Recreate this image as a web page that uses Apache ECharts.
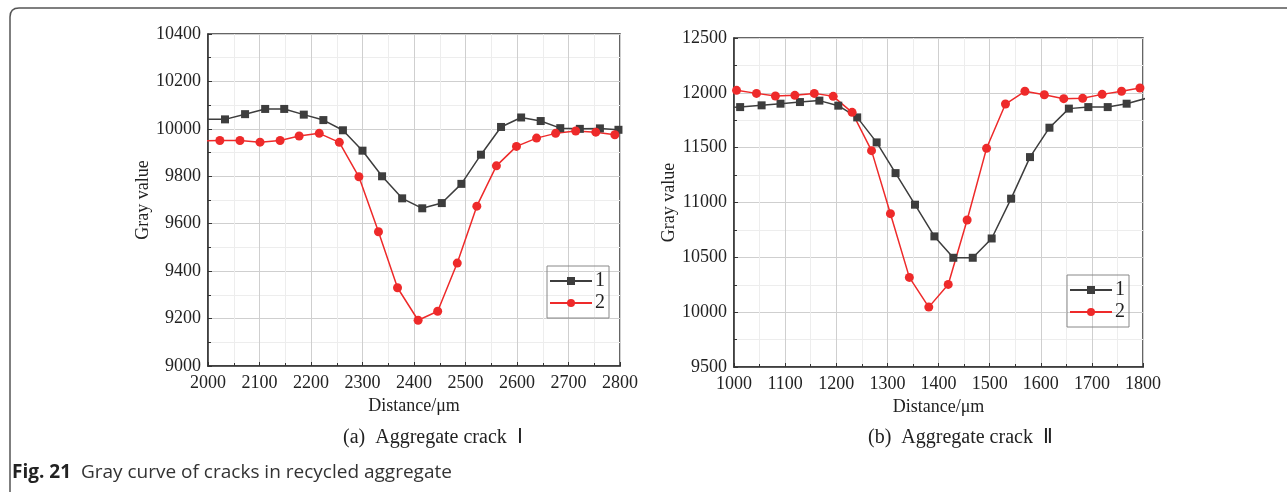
<!DOCTYPE html>
<html>
<head>
<meta charset="utf-8">
<script src="https://cdn.jsdelivr.net/npm/echarts@6.0.0/dist/echarts.min.js"></script>
<style>
  html, body { margin: 0; padding: 0; background: #fff; }
  #chart { width: 1287px; height: 492px; }
</style>
</head>
<body>
<div id="chart"></div>
<script>
// (a) Aggregate crack I  -- first point of each series sits just left of the axis and is clipped
const distA1 = [1995, 2033, 2072, 2111, 2148, 2186, 2224, 2262, 2300, 2338, 2377, 2416, 2454, 2492, 2530, 2569, 2608, 2646, 2684, 2722, 2761, 2797]
const grayA1 = [10040, 10040, 10062, 10084, 10084, 10060, 10037, 9994, 9908, 9800, 9707, 9665, 9687, 9768, 9891, 10008, 10048, 10033, 10003, 10000, 10002, 9996]
const distA2 = [1985, 2023, 2062, 2101, 2140, 2177, 2216, 2255, 2293, 2331, 2368, 2408, 2446, 2484, 2522, 2560, 2599, 2638, 2675, 2714, 2753, 2790]
const grayA2 = [9950, 9951, 9951, 9944, 9951, 9970, 9981, 9943, 9798, 9566, 9330, 9193, 9231, 9434, 9674, 9844, 9926, 9961, 9981, 9991, 9986, 9975]

// (b) Aggregate crack II
const distB1 = [974, 1012, 1054, 1091, 1129, 1167, 1204, 1241, 1279, 1316, 1354, 1392, 1429, 1467, 1504, 1542, 1579, 1617, 1655, 1693, 1731, 1768, 1806]
const grayB1 = [11868, 11870, 11886, 11901, 11916, 11929, 11883, 11776, 11548, 11268, 10980, 10691, 10496, 10496, 10672, 11035, 11414, 11682, 11856, 11870, 11870, 11901, 11950]
const distB2 = [1005, 1044, 1081, 1119, 1157, 1194, 1231, 1269, 1306, 1343, 1381, 1419, 1456, 1494, 1531, 1569, 1607, 1645, 1682, 1720, 1758, 1794]
const grayB2 = [12023, 11995, 11971, 11977, 11995, 11968, 11822, 11473, 10898, 10317, 10046, 10253, 10840, 11494, 11898, 12014, 11983, 11947, 11950, 11986, 12014, 12044]

const serif = '"Liberation Serif", "Times New Roman", serif'
const pairs = (xs, ys) => xs.map((x, i) => [x, ys[i]])
const plain = v => String(v)

const xAxisOf = (gridIndex, min, max) => ({
  type: 'value', gridIndex, min, max, interval: 100,
  name: 'Distance/μm', nameLocation: 'middle', nameGap: 27,
  nameTextStyle: { fontFamily: serif, fontSize: 18, color: '#222' },
  axisLine: { lineStyle: { color: '#333', width: 1.5 } },
  axisTick: { inside: true, length: 4, lineStyle: { color: '#333' } },
  minorTick: { show: true, splitNumber: 2, length: 3, lineStyle: { color: '#333' } },
  axisLabel: { fontFamily: serif, fontSize: 18, color: '#222', margin: 8, formatter: plain },
  splitLine: { show: true, lineStyle: { color: '#cfcfcf' } },
  minorSplitLine: { show: true, lineStyle: { color: '#ededed' } }
})
const yAxisOf = (gridIndex, min, max, interval, nameGap) => ({
  type: 'value', gridIndex, min, max, interval,
  name: 'Gray value', nameLocation: 'middle', nameRotate: 90, nameGap,
  nameTextStyle: { fontFamily: serif, fontSize: 18, color: '#222' },
  axisLine: { show: true, lineStyle: { color: '#333', width: 1.5 } },
  axisTick: { show: true, inside: true, length: 4, lineStyle: { color: '#333' } },
  minorTick: { show: true, splitNumber: 2, length: 3, lineStyle: { color: '#333' } },
  axisLabel: { fontFamily: serif, fontSize: 18, color: '#222', margin: 7, formatter: plain },
  splitLine: { show: true, lineStyle: { color: '#cfcfcf' } },
  minorSplitLine: { show: true, lineStyle: { color: '#ededed' } }
})
const lineOf = (name, idx, data, black) => ({
  name, type: 'line', xAxisIndex: idx, yAxisIndex: idx, data,
  symbol: black ? 'rect' : 'circle', symbolSize: black ? 8 : 9,
  lineStyle: { width: 1.5, color: black ? '#3d3d3d' : '#ee2a2a' },
  itemStyle: { color: black ? '#3d3d3d' : '#ee2a2a' },
  emphasis: { disabled: true }
})
const legendAt = (left, top) => ({
  orient: 'vertical', left, top, data: ['1', '2'],
  itemWidth: 42, itemHeight: 10, itemGap: 2,
  padding: [5, 4, 5, 2], borderColor: '#888', borderWidth: 1,
  textStyle: { fontFamily: serif, fontSize: 20, color: '#222', padding: [0, 0, 0, -2] }
})

const frame = { stroke: '#555', lineWidth: 1.5, fill: null }

const chart = echarts.init(document.getElementById('chart'))
chart.setOption({
  animation: false,
  backgroundColor: '#fff',
  grid: [
    { left: 208, top: 34, width: 412, height: 332, show: true, borderColor: '#333', borderWidth: 1.5 },
    { left: 734, top: 38, width: 409, height: 329, show: true, borderColor: '#333', borderWidth: 1.5 }
  ],
  xAxis: [xAxisOf(0, 2000, 2800), xAxisOf(1, 1000, 1800)],
  yAxis: [yAxisOf(0, 9000, 10400, 200, 45), yAxisOf(1, 9500, 12500, 500, 51)],
  legend: [legendAt(547, 266), legendAt(1067, 275)],
  series: [
    lineOf('1', 0, pairs(distA1, grayA1), true),
    lineOf('2', 0, pairs(distA2, grayA2), false),
    lineOf('1', 1, pairs(distB1, grayB1), true),
    lineOf('2', 1, pairs(distB2, grayB2), false)
  ],
  graphic: [
    { type: 'line', shape: { x1: 10, y1: 492, x2: 10, y2: 17 }, style: frame },
    { type: 'bezierCurve', shape: { x1: 10, y1: 17, cpx1: 10, cpy1: 8, x2: 19, y2: 8 }, style: frame },
    { type: 'line', shape: { x1: 19, y1: 8, x2: 1287, y2: 8 }, style: frame },
    { type: 'text', left: 343, top: 428,
      style: { text: '(a)  Aggregate crack  Ⅰ', font: '20px ' + serif, fill: '#222' } },
    { type: 'text', left: 868, top: 428,
      style: { text: '(b)  Aggregate crack  Ⅱ', font: '20px ' + serif, fill: '#222' } },
    { type: 'text', left: 12, top: 463,
      style: {
        text: '{b|Fig. 21}  Gray curve of cracks in recycled aggregate',
        font: '19px "Open Sans", sans-serif', fill: '#333',
        rich: { b: { fontWeight: 'bold', fontFamily: '"Open Sans", sans-serif', fontSize: 19, fill: '#222' } }
      } }
  ]
})
</script>
</body>
</html>
